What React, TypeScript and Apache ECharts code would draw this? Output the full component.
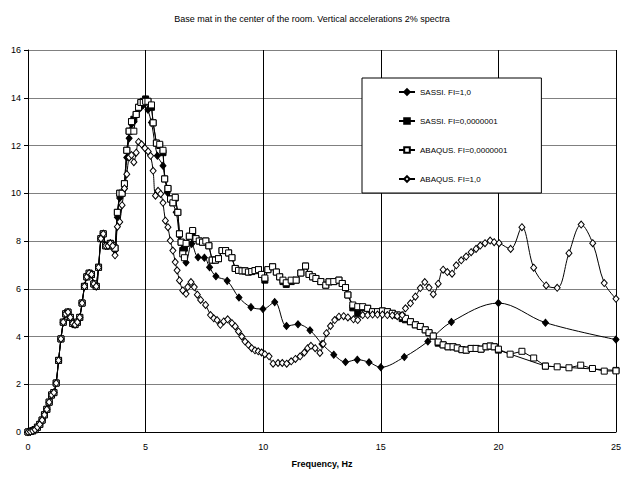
import React, { useEffect, useRef } from "react";
import * as echarts from "echarts";

const FONT = "'Liberation Sans', Arial, sans-serif";

const titleText = "Base mat in the center of the room. Vertical accelerations 2% spectra";
const xAxisName = "Frequency, Hz";
const seriesNames = ["SASSI. FI=1,0", "SASSI. FI=0,0000001", "ABAQUS. FI=0,0000001", "ABAQUS. FI=1,0"];

// shared low-frequency part (all four spectra coincide), [Hz, value]
const lowPart: number[][] = [
  [0, 0], [0.1, 0.02], [0.2, 0.05], [0.3, 0.1], [0.4, 0.2], [0.5, 0.32], [0.6, 0.5], [0.7, 0.72],
  [0.8, 0.95], [0.9, 1.25], [1.0, 1.55], [1.1, 1.65], [1.2, 2.05], [1.3, 3.0], [1.4, 3.9], [1.5, 4.6],
  [1.6, 4.95], [1.7, 5.02], [1.8, 4.8], [1.9, 4.55], [2.0, 4.5], [2.1, 4.6], [2.2, 4.8], [2.3, 5.4],
  [2.4, 6.1], [2.5, 6.5], [2.6, 6.65], [2.7, 6.6], [2.8, 6.2], [2.9, 6.1], [3.0, 6.9], [3.1, 8.1],
  [3.2, 8.3], [3.3, 7.8], [3.4, 7.8], [3.5, 7.9], [3.6, 7.8],
];

const sassiFi1: number[][] = [
  [3.7, 7.6], [3.8, 9.0], [3.9, 9.8], [4.0, 10.0], [4.1, 10.2], [4.2, 11.5], [4.3, 12.3], [4.4, 12.9],
  [4.5, 13.0], [4.6, 13.3], [4.7, 13.5], [4.8, 13.6], [4.9, 13.7], [5.0, 13.93], [5.1, 13.5], [5.25, 12.96],
  [5.5, 11.57], [5.74, 11.15], [5.92, 10.04], [6.09, 9.69], [6.3, 9.2], [6.44, 8.22], [6.72, 7.1], [6.96, 7.88],
  [7.23, 7.32], [7.5, 7.3], [7.72, 6.9], [7.99, 6.52], [8.47, 6.33], [8.97, 5.63], [9.48, 5.23], [9.99, 5.15],
  [10.49, 5.44], [10.99, 4.44], [11.48, 4.51], [11.99, 4.26], [12.5, 3.69], [13.0, 3.24], [13.5, 2.93],
  [14.0, 3.03], [14.5, 2.92], [15.0, 2.71], [16.0, 3.14], [17.0, 3.79], [18.0, 4.61], [20.0, 5.4],
  [22.0, 4.58], [25.0, 3.87],
];

const sassiFi0: number[][] = [
  [3.7, 7.7], [3.8, 9.2], [3.9, 10.0], [4.0, 10.0], [4.1, 10.4], [4.2, 11.8], [4.3, 12.6], [4.4, 13.0],
  [4.5, 13.1], [4.6, 13.3], [4.7, 13.6], [4.8, 13.8], [4.9, 13.85], [5.0, 13.95], [5.1, 13.85], [5.25, 13.6],
  [5.32, 12.95], [5.46, 12.1], [5.6, 12.0], [5.74, 11.7], [5.81, 10.6], [5.95, 10.2], [6.06, 9.76],
  [6.16, 9.6], [6.26, 9.8], [6.37, 9.2], [6.44, 8.3], [6.51, 7.95], [6.58, 7.6], [6.65, 7.7], [6.72, 7.9],
  [6.86, 8.2], [7.0, 8.4], [7.14, 8.1], [7.28, 8.0], [7.42, 7.95], [7.56, 8.0], [7.69, 7.8], [7.83, 7.2],
  [7.97, 7.2], [8.1, 7.26], [8.25, 7.6], [8.4, 7.6], [8.53, 7.5], [8.67, 7.3], [8.81, 6.85], [8.95, 6.77],
  [9.1, 6.75], [9.23, 6.75], [9.37, 6.7], [9.51, 6.72], [9.65, 6.76], [9.8, 6.8], [9.93, 6.6], [10.07, 6.36],
  [10.2, 6.8], [10.4, 6.92], [10.56, 6.7], [10.7, 6.5], [10.84, 6.3], [10.98, 6.18], [11.19, 6.3],
  [11.4, 6.36], [11.6, 6.66], [11.8, 6.95], [11.95, 6.6], [12.1, 6.5], [12.24, 6.43], [12.45, 6.3],
  [12.66, 6.15], [12.8, 6.29], [13.0, 6.3], [13.22, 6.36], [13.36, 6.22], [13.5, 6.05], [13.6, 5.74],
  [13.81, 5.2], [14.02, 4.97], [14.23, 5.2], [14.44, 5.18], [14.65, 5.04], [14.86, 5.04], [15.07, 5.07],
  [15.28, 5.04], [15.49, 4.97], [15.7, 4.9], [15.91, 4.75], [16.05, 4.7], [16.26, 4.62], [16.47, 4.49],
  [16.68, 4.42], [16.89, 4.28], [17.05, 4.16], [17.23, 4.02], [17.44, 3.72], [17.65, 3.65], [17.86, 3.57],
  [18.07, 3.57], [18.25, 3.52], [18.45, 3.45], [18.63, 3.43], [18.84, 3.5], [19.05, 3.5], [19.26, 3.47],
  [19.47, 3.57], [19.65, 3.6], [19.82, 3.57], [20.0, 3.43], [22.0, 2.76], [25.0, 2.58],
];

const abaqusFi0: number[][] = [
  [3.7, 7.7], [3.8, 9.2], [3.9, 10.0], [4.0, 10.0], [4.1, 10.4], [4.2, 11.8], [4.3, 12.6], [4.4, 13.0],
  [4.5, 12.6], [4.6, 13.3], [4.7, 13.6], [4.8, 13.8], [4.9, 13.8], [5.0, 13.85], [5.1, 13.85], [5.25, 13.7],
  [5.32, 12.95], [5.46, 12.1], [5.6, 12.05], [5.74, 11.8], [5.81, 10.6], [5.95, 10.2], [6.06, 9.76],
  [6.16, 9.6], [6.26, 9.83], [6.37, 9.2], [6.44, 8.3], [6.51, 7.95], [6.58, 7.46], [6.65, 7.3], [6.72, 7.9],
  [6.86, 8.2], [7.0, 8.44], [7.14, 8.1], [7.28, 8.0], [7.42, 7.95], [7.56, 8.0], [7.69, 7.8], [7.83, 7.2],
  [7.97, 7.2], [8.1, 7.26], [8.25, 7.6], [8.4, 7.6], [8.53, 7.5], [8.67, 7.3], [8.81, 6.85], [8.95, 6.77],
  [9.1, 6.75], [9.23, 6.75], [9.37, 6.7], [9.51, 6.72], [9.65, 6.76], [9.8, 6.8], [9.93, 6.6], [10.07, 6.45],
  [10.2, 6.8], [10.4, 6.92], [10.56, 6.7], [10.7, 6.5], [10.84, 6.36], [10.98, 6.25], [11.19, 6.36],
  [11.4, 6.36], [11.6, 6.66], [11.8, 6.95], [11.95, 6.6], [12.1, 6.5], [12.24, 6.43], [12.45, 6.3],
  [12.66, 6.15], [12.8, 6.29], [13.0, 6.3], [13.22, 6.36], [13.36, 6.22], [13.5, 6.05], [13.6, 5.74],
  [13.81, 5.32], [14.02, 5.25], [14.23, 5.25], [14.44, 5.18], [14.65, 5.04], [14.86, 5.04], [15.07, 5.07],
  [15.28, 5.04], [15.49, 4.97], [15.7, 4.9], [15.91, 4.83], [16.05, 4.76], [16.26, 4.62], [16.47, 4.49],
  [16.68, 4.42], [16.89, 4.28], [17.05, 4.16], [17.23, 4.02], [17.44, 3.77], [17.65, 3.65], [17.86, 3.57],
  [18.07, 3.57], [18.25, 3.52], [18.45, 3.45], [18.63, 3.43], [18.84, 3.5], [19.05, 3.5], [19.26, 3.47],
  [19.47, 3.57], [19.65, 3.6], [19.82, 3.57], [20.0, 3.47], [20.5, 3.26], [21.0, 3.38], [21.5, 3.1],
  [22.0, 2.76], [22.5, 2.73], [23.0, 2.69], [23.5, 2.8], [24.0, 2.66], [24.5, 2.55], [25.0, 2.56],
];

const abaqusFi1: number[][] = [
  [3.7, 7.4], [3.8, 8.6], [3.9, 8.8], [4.0, 9.5], [4.1, 10.2], [4.2, 10.8], [4.3, 11.5], [4.4, 11.6],
  [4.5, 11.3], [4.6, 11.7], [4.7, 12.15], [4.83, 12.05], [4.97, 11.89], [5.11, 11.75], [5.21, 11.57],
  [5.32, 10.94], [5.42, 9.9], [5.53, 10.1], [5.64, 9.97], [5.74, 9.6], [5.84, 8.85], [5.95, 8.58],
  [6.05, 8.02], [6.16, 7.6], [6.26, 7.12], [6.34, 6.77], [6.44, 6.35], [6.58, 5.93], [6.72, 5.79],
  [6.79, 6.07], [6.93, 6.28], [7.07, 6.07], [7.2, 5.75], [7.34, 5.53], [7.55, 5.32], [7.76, 4.9],
  [7.9, 4.76], [8.04, 4.69], [8.18, 4.49], [8.32, 4.63], [8.49, 4.72], [8.67, 4.56], [8.81, 4.42],
  [8.95, 4.21], [9.09, 4.0], [9.23, 3.79], [9.37, 3.65], [9.51, 3.51], [9.65, 3.42], [9.79, 3.38],
  [9.93, 3.33], [10.07, 3.26], [10.25, 3.17], [10.42, 2.86], [10.63, 2.89], [10.81, 2.89], [11.0, 2.86],
  [11.19, 2.96], [11.37, 3.06], [11.57, 3.17], [11.75, 3.33], [11.89, 3.51], [12.03, 3.61], [12.21, 3.51],
  [12.41, 3.31], [12.55, 3.69], [12.69, 4.14], [12.86, 4.44], [13.04, 4.69], [13.22, 4.83], [13.42, 4.85],
  [13.6, 4.8], [13.84, 4.72], [14.02, 4.69], [14.23, 4.9], [14.44, 4.9], [14.65, 4.92], [14.86, 4.92],
  [15.07, 4.92], [15.28, 4.9], [15.49, 4.88], [15.7, 4.85], [15.91, 4.9], [16.05, 5.18], [16.26, 5.39],
  [16.47, 5.67], [16.68, 6.03], [16.87, 6.28], [17.05, 6.05], [17.23, 5.77], [17.44, 6.21], [17.65, 6.8],
  [17.83, 6.7], [18.03, 6.63], [18.21, 6.98], [18.42, 7.19], [18.63, 7.35], [18.84, 7.53], [19.05, 7.67],
  [19.23, 7.81], [19.43, 7.91], [19.65, 8.02], [19.82, 7.95], [20.03, 7.91], [20.52, 7.67], [21.0, 8.58],
  [21.5, 6.88], [22.03, 6.14], [22.5, 6.04], [23.0, 7.49], [23.52, 8.69], [24.01, 7.91], [24.5, 6.24],
  [25.0, 5.58],
];

const xTicks = { min: 0, max: 25, interval: 5 };
const yTicks = { min: 0, max: 16, interval: 2 };

export default function App() {
  const ref = useRef<HTMLDivElement>(null);
  useEffect(() => {
    if (!ref.current) return;
    const chart = echarts.init(ref.current, undefined, { renderer: "svg" });
    const lineStyle = { color: "#000", width: 1 };
    const mk = (
      name: string,
      tail: number[][],
      symbol: string,
      size: number | number[],
      fill: string,
      smooth: number | boolean
    ) => ({
      type: "line",
      name,
      data: lowPart.concat(tail),
      symbol,
      symbolSize: size,
      showAllSymbol: true,
      smooth,
      lineStyle,
      itemStyle: { color: fill, borderColor: "#000", borderWidth: 1 },
      emphasis: { disabled: true },
      clip: false,
    });
    chart.setOption({
      animation: false,
      backgroundColor: "#fff",
      textStyle: { fontFamily: FONT },
      title: {
        text: titleText,
        left: "center",
        top: 9,
        textStyle: { fontSize: 9, fontWeight: "normal", color: "#000", fontFamily: FONT },
      },
      legend: {
        orient: "vertical",
        left: 362,
        top: 78,
        padding: [10, 34, 10, 36],
        itemGap: 21,
        itemWidth: 16,
        itemHeight: 7,
        backgroundColor: "#fff",
        borderColor: "#000",
        borderWidth: 1,
        borderRadius: 0,
        textStyle: { fontSize: 8, color: "#000", fontFamily: FONT },
        data: seriesNames,
      },
      grid: { left: 28, right: 1, top: 50, bottom: 47, containLabel: false },
      xAxis: {
        type: "value",
        ...xTicks,
        name: xAxisName,
        nameLocation: "middle",
        nameGap: 27,
        nameTextStyle: { fontSize: 9, fontWeight: "bold", color: "#000", fontFamily: FONT },
        axisLine: { show: true, onZero: false, lineStyle: { color: "#000", width: 1 } },
        axisTick: { show: false },
        axisLabel: { fontSize: 9, color: "#000", margin: 10, fontFamily: FONT },
        splitLine: { show: true, lineStyle: { color: "#000", width: 1 } },
      },
      yAxis: {
        type: "value",
        ...yTicks,
        axisLine: { show: true, lineStyle: { color: "#000", width: 1 } },
        axisTick: { show: true, length: 4, lineStyle: { color: "#000" } },
        axisLabel: { fontSize: 9, color: "#000", margin: 7, fontFamily: FONT },
        splitLine: { show: true, lineStyle: { color: "#808080", width: 1.2 } },
      },
      series: [
        mk(seriesNames[0], sassiFi1, "diamond", [6, 7], "#000", 0.35),
        mk(seriesNames[1], sassiFi0, "rect", 6, "#000", false),
        mk(seriesNames[2], abaqusFi0, "rect", 6, "#fff", false),
        mk(seriesNames[3], abaqusFi1, "diamond", [6, 7], "#fff", 0.35),
      ],
    });
    return () => chart.dispose();
  }, []);
  return (
    <div
      ref={ref}
      style={{ position: "fixed", left: 0, top: 0, width: 624, height: 479, background: "#fff" }}
    />
  );
}
